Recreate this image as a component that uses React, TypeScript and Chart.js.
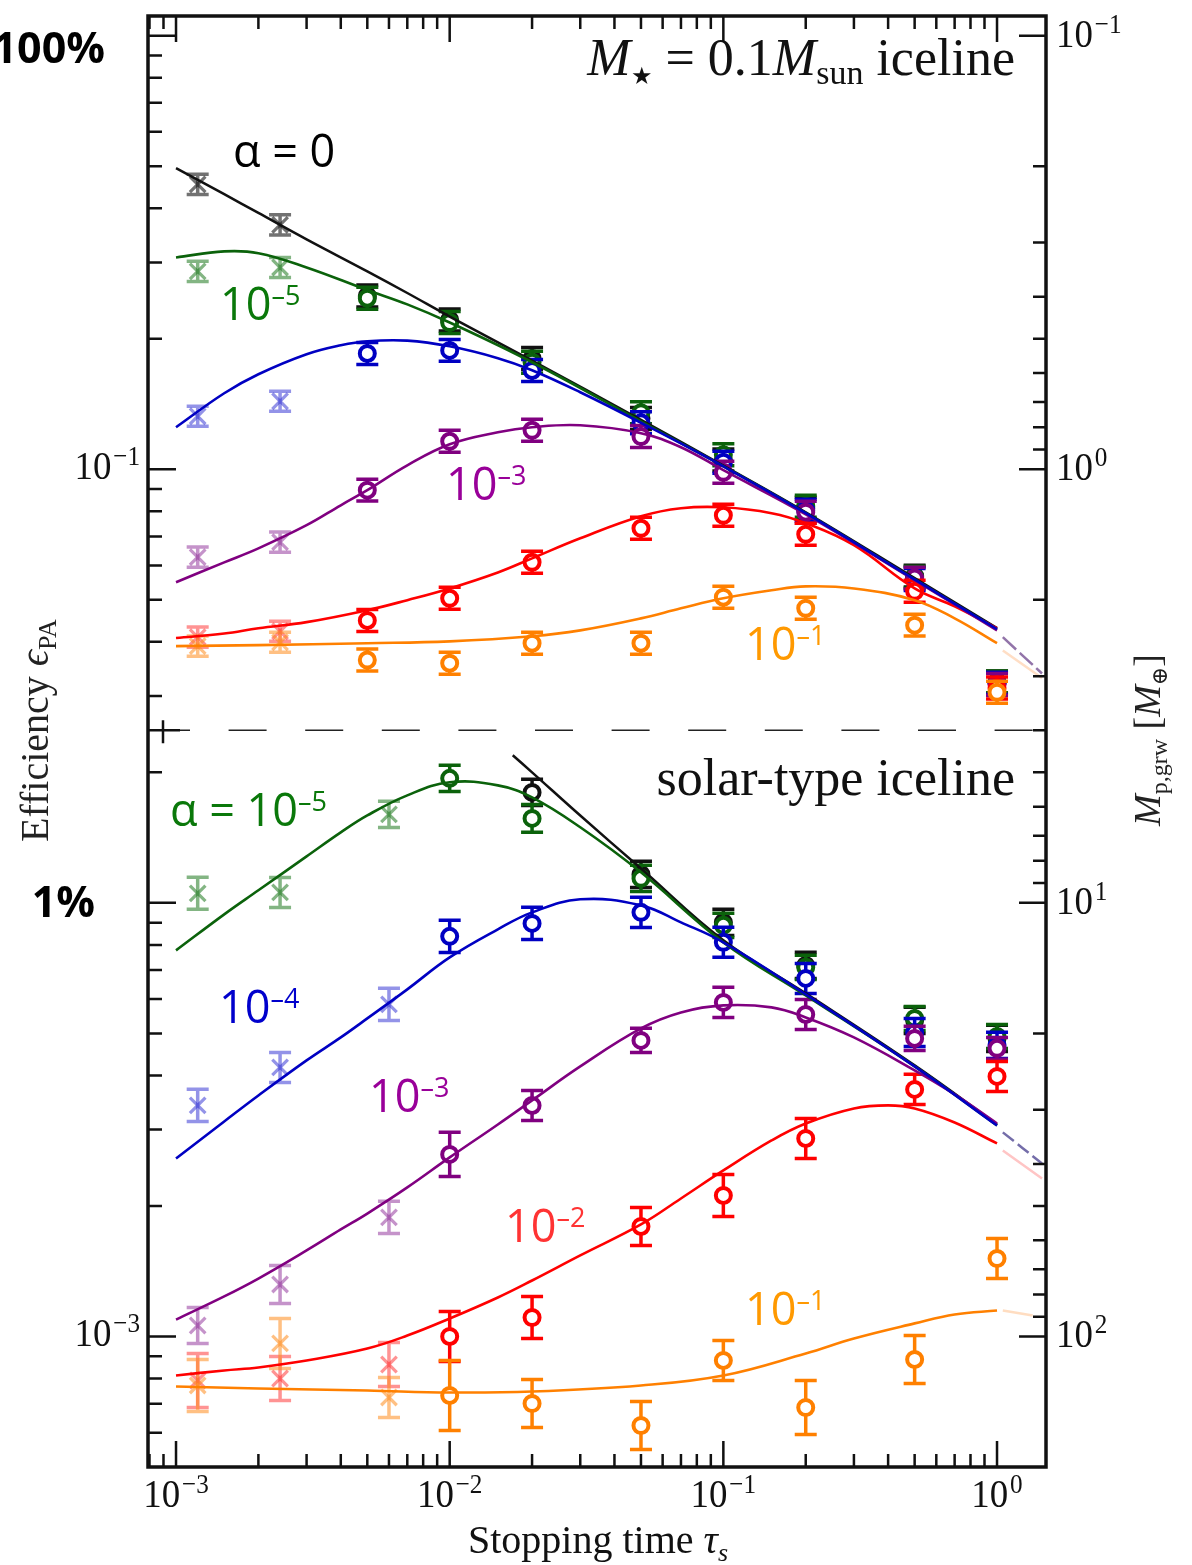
import React, { useEffect, useRef } from "react";
import { Chart, registerables } from "chart.js";

Chart.register(...registerables);

const SERIF = '"Liberation Serif", "Times New Roman", "DejaVu Serif", serif';
const SANS = '"Open Sans", "Noto Sans", "DejaVu Sans", sans-serif';

// ---------- axes ----------
const X_MIN = 7.9e-4;
const X_MAX = 1.51;
const Y_MIN = 5.0e-4;
const Y_MAX = 1.11;
const Y2_MIN = 0.0901; // right axis = M_p,grw (reversed)
const Y2_MAX = 200;
const xTickValues = [1e-3, 1e-2, 1e-1, 1];
const xTickExps = ["−3", "−2", "−1", "0"];
const yTickValues = [1e-1, 1e-3];
const yTickExps = ["−1", "−3"];
const y2TickValues = [0.1, 1, 10, 100];
const y2TickExps = ["−1", "0", "1", "2"];
const panelDivider = 0.025;

// ---------- TOP PANEL (M* = 0.1 Msun iceline) : model curves ----------
const tauBlackTopCurve = [1e-3, 1.5e-3, 2e-3, 3e-3, 5e-3, 7e-3, 1e-2, 2e-2, 5e-2, 0.1, 0.2, 0.5, 1];
const effBlackTopCurve = [0.495, 0.431, 0.39, 0.339, 0.286, 0.255, 0.225, 0.178, 0.13, 0.102, 0.0796, 0.0561, 0.043];
const tauGreenTopCurve = [1e-3, 1.5e-3, 2e-3, 3e-3, 5e-3, 7e-3, 1e-2, 2e-2, 5e-2, 0.1, 0.2, 0.5, 1];
const effGreenTopCurve = [0.308, 0.318, 0.315, 0.292, 0.259, 0.24, 0.218, 0.1765, 0.129, 0.1016, 0.0792, 0.0557, 0.0428];
const tauBlueTopCurve = [1e-3, 1.5e-3, 2e-3, 3e-3, 4e-3, 5e-3, 7e-3, 1e-2, 1.5e-2, 2e-2, 3e-2, 5e-2, 0.1, 0.2, 0.5, 1];
const effBlueTopCurve = [0.125, 0.1497, 0.1656, 0.1842, 0.1932, 0.1974, 0.198, 0.1921, 0.1804, 0.1692, 0.1505, 0.128, 0.1016, 0.0792, 0.0557, 0.0428];
const tauPurpleTopCurve = [1e-3, 1.5e-3, 2e-3, 3e-3, 4e-3, 5e-3, 7e-3, 1e-2, 1.5e-2, 2e-2, 3e-2, 5e-2, 7e-2, 0.1, 0.2, 0.5, 1];
const effPurpleTopCurve = [0.0549, 0.061, 0.0657, 0.0743, 0.0826, 0.0895, 0.1021, 0.1142, 0.1217, 0.125, 0.1263, 0.1211, 0.1124, 0.0995, 0.0787, 0.0555, 0.0425];
const tauRedTopCurve = [1e-3, 1.5e-3, 2e-3, 3e-3, 5e-3, 7e-3, 1e-2, 1.5e-2, 2e-2, 3e-2, 5e-2, 7e-2, 0.1, 0.15, 0.2, 0.3, 0.5, 0.7, 1];
const effRedTopCurve = [0.0408, 0.0418, 0.043, 0.0444, 0.0473, 0.0499, 0.0531, 0.0578, 0.0623, 0.0693, 0.0779, 0.0813, 0.0817, 0.0792, 0.0751, 0.0668, 0.0531, 0.0483, 0.043];
const tauOrangeTopCurve = [1e-3, 2e-3, 5e-3, 1e-2, 2e-2, 3e-2, 5e-2, 7e-2, 0.1, 0.15, 0.2, 0.3, 0.5, 0.7, 1];
const effOrangeTopCurve = [0.0391, 0.0393, 0.0397, 0.0401, 0.0412, 0.0425, 0.0453, 0.0478, 0.0504, 0.0526, 0.0537, 0.0531, 0.0499, 0.0453, 0.0397];
// faded extension beyond tau = 1
const tauTopFade = [1.05, 1.46];
const effTopFadeMerged = [0.041, 0.0338];
const effTopFadeOrange = [0.0382, 0.033];

// ---------- TOP PANEL : simulation markers ----------
const tauCrossTop = [1.2e-3, 2.4e-3];
const tauCircleTop = [5e-3, 1e-2, 2e-2, 5e-2, 0.1, 0.2, 0.5, 1];
const errCrossTop = [1.055, 1.055];
const errCircleTop = [1.06, 1.06, 1.06, 1.06, 1.06, 1.06, 1.06, 1.06];
const effBlackCrossTop = [0.454, 0.366];
const effBlackCircleTop = [0.251, 0.221, 0.18, 0.131, 0.105, 0.0813, 0.0567, 0.0323];
const effGreenCrossTop = [0.286, 0.292];
const effGreenCircleTop = [0.248, 0.218, 0.1765, 0.135, 0.108, 0.0822, 0.0564, 0.0323];
const effBlueCrossTop = [0.1325, 0.1435];
const effBlueCircleTop = [0.185, 0.188, 0.169, 0.128, 0.1038, 0.0804, 0.0557, 0.0321];
const effPurpleCrossTop = [0.0627, 0.0679];
const effPurpleCircleTop = [0.0895, 0.116, 0.123, 0.119, 0.0984, 0.0796, 0.0561, 0.0319];
const effRedCrossTop = [0.041, 0.0423];
const effRedCircleTop = [0.0448, 0.0504, 0.061, 0.0731, 0.0783, 0.0708, 0.0523, 0.0313];
const effOrangeCrossTop = [0.0391, 0.0399];
const effOrangeCircleTop = [0.0363, 0.0357, 0.0397, 0.0397, 0.0507, 0.0478, 0.0437, 0.0306];

// ---------- BOTTOM PANEL (solar-type iceline) : model curves ----------
const tauBlackBotCurve = [0.017, 0.02, 0.03, 0.05, 0.1, 0.2, 0.5, 1];
const effBlackBotCurve = [0.0219, 0.02, 0.0159, 0.012, 0.008195, 0.006183, 0.004219, 0.003083];
const tauGreenBotCurve = [1e-3, 1.5e-3, 2e-3, 3e-3, 4e-3, 5e-3, 7e-3, 1e-2, 1.5e-2, 2e-2, 3e-2, 5e-2, 0.1, 0.2, 0.5, 1];
const effGreenBotCurve = [0.00777, 0.009408, 0.01069, 0.0128, 0.01454, 0.01591, 0.0177, 0.01897, 0.01866, 0.01751, 0.01494, 0.01176, 0.008109, 0.006118, 0.004196, 0.003066];
const tauBlueBotCurve = [1e-3, 1.5e-3, 2e-3, 3e-3, 4e-3, 5e-3, 7e-3, 1e-2, 1.5e-2, 2e-2, 3e-2, 5e-2, 7e-2, 0.1, 0.2, 0.5, 1];
const effBlueBotCurve = [0.002574, 0.003133, 0.003596, 0.004332, 0.004895, 0.005414, 0.006318, 0.007486, 0.008689, 0.009508, 0.01019, 0.009867, 0.009016, 0.008109, 0.00615, 0.004196, 0.003066];
const tauPurpleBotCurve = [1e-3, 1.5e-3, 2e-3, 3e-3, 4e-3, 5e-3, 7e-3, 1e-2, 1.5e-2, 2e-2, 3e-2, 5e-2, 7e-2, 0.1, 0.15, 0.2, 0.3, 0.5, 0.7, 1];
const effPurpleBotCurve = [0.001094, 0.001237, 0.00136, 0.001579, 0.001765, 0.001921, 0.002207, 0.002588, 0.003083, 0.003503, 0.004196, 0.005134, 0.005589, 0.005802, 0.00574, 0.005443, 0.004895, 0.004108, 0.003616, 0.003099];
const tauRedBotCurve = [1e-3, 1.5e-3, 2e-3, 3e-3, 5e-3, 7e-3, 1e-2, 1.5e-2, 2e-2, 3e-2, 5e-2, 7e-2, 0.1, 0.15, 0.2, 0.3, 0.4, 0.5, 0.7, 1];
const effRedBotCurve = [0.0008128, 0.000835, 0.0008484, 0.0008804, 0.0009382, 0.001005, 0.0011, 0.00123, 0.001346, 0.001538, 0.001813, 0.002081, 0.002415, 0.002832, 0.003099, 0.003357, 0.003411, 0.003357, 0.003116, 0.002787];
const tauOrangeBotCurve = [1e-3, 2e-3, 5e-3, 1e-2, 2e-2, 5e-2, 0.1, 0.2, 0.3, 0.5, 0.7, 1];
const effOrangeBotCurve = [0.0007668, 0.0007586, 0.0007506, 0.0007427, 0.0007466, 0.0007709, 0.0008128, 0.0009137, 0.0009894, 0.001072, 0.001124, 0.001148];
const tauBotFade = [1.05, 1.46];
const effBotFadeMerged = [0.002956, 0.002506];
const effBotFadeRed = [0.002686, 0.002314];
const tauBotFadeOrange = [1.05, 1.35];
const effBotFadeOrange = [0.001148, 0.001118];

// ---------- BOTTOM PANEL : simulation markers ----------
const tauCrossBot = [1.2e-3, 2.4e-3, 6e-3];
const tauCircleBot = [1e-2, 2e-2, 5e-2, 0.1, 0.2, 0.5, 1];
const tauBlackCircleBot = [2e-2, 5e-2, 0.1, 0.2, 0.5, 1];
const effBlackCircleBot = [0.01798, 0.01163, 0.009016, 0.007175, 0.005358, 0.004869];
const errBlackCircleBot = [1.072, 1.072, 1.072, 1.072, 1.072, 1.072];
const effGreenCrossBot = [0.01052, 0.01057, 0.016];
const errGreenCrossBot = [1.089, 1.083, 1.072];
const effGreenCircleBot = [0.01937, 0.01566, 0.01139, 0.008874, 0.0071, 0.005414, 0.00492];
const errGreenCircleBot = [1.072, 1.077, 1.072, 1.066, 1.066, 1.066, 1.066];
const effBlueCrossBot = [0.003411, 0.004174, 0.005833];
const errBlueCrossBot = [1.089, 1.083, 1.089];
const effBlueCircleBot = [0.008371, 0.008968, 0.009508, 0.008109, 0.006696, 0.005026, 0.004692];
const errBlueCircleBot = [1.089, 1.089, 1.083, 1.083, 1.083, 1.077, 1.072];
const effPurpleCrossBot = [0.00106, 0.001318, 0.001882];
const errPurpleCrossBot = [1.1, 1.106, 1.089];
const effPurpleCircleBot = [0.00263, 0.003411, 0.004818, 0.005895, 0.00553, 0.004869, 0.004618];
const errPurpleCircleBot = [1.124, 1.083, 1.066, 1.083, 1.083, 1.066, 1.06];
const effRedCrossBot = [0.0007916, 0.0008, 0.0008618];
const errRedCrossBot = [1.154, 1.124, 1.124];
const effRedCircleBot = [0.001, 0.001106, 0.001794, 0.002115, 0.002862, 0.003714, 0.003979];
const errRedCircleBot = [1.142, 1.118, 1.106, 1.118, 1.112, 1.083, 1.083];
const effOrangeCrossBot = [0.0007709, 0.0009636, 0.0007233];
const errOrangeCrossBot = [1.148, 1.142, 1.112];
const effOrangeCircleBot = [0.000731, 0.0007005, 0.0006233, 0.0008804, 0.0006858, 0.0008851, 0.001513];
const errOrangeCircleBot = [1.204, 1.136, 1.136, 1.112, 1.154, 1.136, 1.112];

// ---------- colours ----------
const C = {
  black: "#111111",
  green: "#0b620b",
  blue: "#0000c2",
  purple: "#800080",
  red: "#ff0000",
  orange: "#ff8000",
};
const CL = {
  black: "rgba(20,20,20,0.6)",
  green: "rgba(30,120,30,0.55)",
  blue: "rgba(40,40,210,0.5)",
  purple: "rgba(140,40,150,0.5)",
  red: "rgba(255,40,40,0.5)",
  orange: "rgba(255,140,30,0.55)",
};
const LABEL = {
  green: "#0a780a",
  blue: "#0000cc",
  purple: "#990099",
  red: "#ff3333",
  orange: "#ff9900",
};

const pts = (xs: number[], ys: number[]) => xs.map((x, i) => ({ x, y: ys[i] }));

function curve(xs: number[], ys: number[], color: string, width = 2.6, dash: number[] = []) {
  return {
    data: pts(xs, ys),
    showLine: true,
    borderColor: color,
    backgroundColor: color,
    borderWidth: width,
    borderDash: dash,
    pointRadius: 0,
    tension: 0.4,
    fill: false,
  };
}

function markers(xs: number[], ys: number[], errs: number[], color: string, kind: "o" | "x") {
  return {
    data: pts(xs, ys),
    errF: errs,
    errColor: color,
    showLine: false,
    pointStyle: kind === "o" ? "circle" : "crossRot",
    pointRadius: kind === "o" ? 7.5 : 11,
    pointBorderWidth: kind === "o" ? 4 : 3.2,
    pointBorderColor: color,
    pointBackgroundColor: kind === "o" ? "#ffffff" : color,
    borderColor: color,
    backgroundColor: color,
  };
}

type Seg = { t: string; font: string; dy?: number; dx?: number };

function drawRich(ctx: CanvasRenderingContext2D, segs: Seg[], x: number, y: number, align: "left" | "right" | "center", color: string, sx = 1) {
  ctx.save();
  ctx.translate(x, y);
  ctx.scale(sx, 1);
  ctx.textAlign = "left";
  ctx.textBaseline = "alphabetic";
  ctx.fillStyle = color;
  let w = 0;
  for (const s of segs) {
    ctx.font = s.font;
    w += ctx.measureText(s.t).width + (s.dx || 0);
  }
  let cx = align === "left" ? 0 : align === "right" ? -w : -w / 2;
  for (const s of segs) {
    ctx.font = s.font;
    cx += s.dx || 0;
    ctx.fillText(s.t, cx, s.dy || 0);
    cx += ctx.measureText(s.t).width;
  }
  ctx.restore();
}

const pow = (exp: string): Seg[] => [
  { t: "10", font: `41px ${SERIF}` },
  { t: exp, font: `28px ${SERIF}`, dy: -14, dx: 2 },
];

const sansPow = (pre: string, exp: string): Seg[] => [
  { t: pre + "10", font: `45px ${SANS}` },
  { t: exp, font: `27px ${SANS}`, dy: -15 },
];

const errorBarPlugin = {
  id: "errbars",
  beforeDatasetDraw(chart: any, args: any) {
    const ds = chart.data.datasets[args.index];
    if (!ds.errF) return;
    const { ctx, chartArea: ca, scales } = chart;
    const xs = scales.x;
    const ys = scales.y;
    ctx.save();
    ctx.beginPath();
    ctx.rect(ca.left, ca.top, ca.right - ca.left, ca.bottom - ca.top);
    ctx.clip();
    ctx.strokeStyle = ds.errColor;
    ctx.lineWidth = 3.5;
    ds.data.forEach((p: any, i: number) => {
      const f = ds.errF[i];
      const px = xs.getPixelForValue(p.x);
      const y1 = ys.getPixelForValue(p.y * f);
      const y2 = ys.getPixelForValue(p.y / f);
      const cw = 11;
      ctx.beginPath();
      ctx.moveTo(px, y1);
      ctx.lineTo(px, y2);
      ctx.moveTo(px - cw, y1);
      ctx.lineTo(px + cw, y1);
      ctx.moveTo(px - cw, y2);
      ctx.lineTo(px + cw, y2);
      ctx.stroke();
    });
    ctx.restore();
  },
};

const decorPlugin = {
  id: "decor",
  afterDraw(chart: any) {
    const { ctx, chartArea: ca, scales } = chart;
    const xs = scales.x;
    const ys = scales.y;
    const y2s = scales.y2;
    ctx.save();

    // panel divider (dashed)
    const yd = ys.getPixelForValue(panelDivider);
    ctx.strokeStyle = "#222";
    ctx.lineWidth = 1.6;
    ctx.setLineDash([38, 38.6]);
    ctx.beginPath();
    ctx.moveTo(ca.left + 4, yd);
    ctx.lineTo(ca.right, yd);
    ctx.stroke();
    ctx.setLineDash([]);
    ctx.strokeStyle = "#111";
    ctx.lineWidth = 2.5;
    ctx.beginPath();
    ctx.moveTo(ca.left, yd);
    ctx.lineTo(ca.left + 32, yd);
    ctx.moveTo(ca.left + 15, yd - 10);
    ctx.lineTo(ca.left + 15, yd + 13);
    ctx.stroke();

    // inward ticks
    ctx.strokeStyle = "#111";
    ctx.lineWidth = 2.5;
    ctx.beginPath();
    for (let e = -4; e <= 0; e++) {
      for (let k = 1; k <= 9; k++) {
        const v = k * Math.pow(10, e);
        if (v <= X_MIN || v >= X_MAX) continue;
        const px = xs.getPixelForValue(v);
        const len = k === 1 ? 26 : 13;
        ctx.moveTo(px, ca.bottom);
        ctx.lineTo(px, ca.bottom - len);
        ctx.moveTo(px, ca.top);
        ctx.lineTo(px, ca.top + len);
      }
    }
    for (let e = -4; e <= 0; e++) {
      for (let k = 1; k <= 9; k++) {
        const v = k * Math.pow(10, e);
        if (v <= Y_MIN || v >= Y_MAX) continue;
        const py = ys.getPixelForValue(v);
        const len = k === 1 ? 28 : 14;
        ctx.moveTo(ca.left, py);
        ctx.lineTo(ca.left + len, py);
      }
    }
    for (let e = -2; e <= 2; e++) {
      for (let k = 1; k <= 9; k++) {
        const v = k * Math.pow(10, e);
        if (v <= Y2_MIN || v >= Y2_MAX) continue;
        const py = y2s.getPixelForValue(v);
        const len = k === 1 ? 27 : 13;
        ctx.moveTo(ca.right, py);
        ctx.lineTo(ca.right - len, py);
      }
    }
    ctx.stroke();

    // frame
    ctx.lineWidth = 3.5;
    ctx.strokeRect(ca.left, ca.top, ca.right - ca.left, ca.bottom - ca.top);

    // tick labels
    xTickValues.forEach((v, i) => {
      drawRich(ctx, pow(xTickExps[i]), xs.getPixelForValue(v), ca.bottom + 40, "center", "#111", 0.9);
    });
    yTickValues.forEach((v, i) => {
      drawRich(ctx, pow(yTickExps[i]), ca.left - 8, ys.getPixelForValue(v) + 10, "right", "#111", 0.9);
    });
    y2TickValues.forEach((v, i) => {
      drawRich(ctx, pow(y2TickExps[i]), ca.right + 10, y2s.getPixelForValue(v) + 11, "left", "#111", 0.9);
    });

    // axis titles
    drawRich(
      ctx,
      [
        { t: "Stopping time ", font: `40px ${SERIF}` },
        { t: "τ", font: `italic 40px ${SERIF}` },
        { t: "s", font: `italic 26px ${SERIF}`, dy: 8 },
      ],
      598,
      1553,
      "center",
      "#111"
    );
    ctx.save();
    ctx.translate(48, 842);
    ctx.rotate(-Math.PI / 2);
    drawRich(
      ctx,
      [
        { t: "Efficiency ", font: `40px ${SERIF}` },
        { t: "ϵ", font: `italic 40px ${SERIF}` },
        { t: "PA", font: `26px ${SERIF}`, dy: 8 },
      ],
      0,
      0,
      "left",
      "#222"
    );
    ctx.restore();
    ctx.save();
    ctx.translate(1160, 826);
    ctx.rotate(-Math.PI / 2);
    drawRich(
      ctx,
      [
        { t: "M", font: `italic 38px ${SERIF}` },
        { t: "p,grw", font: `24px ${SERIF}`, dy: 7 },
        { t: " [", font: `38px ${SERIF}` },
        { t: "M", font: `italic 38px ${SERIF}` },
        { t: "⊕", font: `22px ${SERIF}`, dy: 7 },
        { t: "]", font: `38px ${SERIF}` },
      ],
      0,
      0,
      "left",
      "#222"
    );
    ctx.restore();

    // panel titles
    drawRich(
      ctx,
      [
        { t: "M", font: `italic 52px ${SERIF}` },
        { t: "★", font: `24px ${SERIF}`, dy: 9 },
        { t: " = 0.1", font: `52px ${SERIF}` },
        { t: "M", font: `italic 52px ${SERIF}` },
        { t: "sun", font: `34px ${SERIF}`, dy: 9 },
        { t: " iceline", font: `52px ${SERIF}` },
      ],
      1015,
      75,
      "right",
      "#111"
    );
    drawRich(ctx, [{ t: "solar-type iceline", font: `52px ${SERIF}` }], 1015, 795, "right", "#111");

    // curve labels
    drawRich(ctx, [{ t: "α = 0", font: `45px ${SANS}` }], 233, 167, "left", "#000");
    drawRich(ctx, sansPow("", "–5"), 220, 320, "left", LABEL.green);
    drawRich(ctx, sansPow("", "–3"), 446, 500, "left", LABEL.purple);
    drawRich(ctx, sansPow("", "–1"), 745, 660, "left", LABEL.orange);
    drawRich(ctx, sansPow("α = ", "–5"), 170, 826, "left", LABEL.green);
    drawRich(ctx, sansPow("", "–4"), 219, 1023, "left", LABEL.blue);
    drawRich(ctx, sansPow("", "–3"), 369, 1112, "left", LABEL.purple);
    drawRich(ctx, sansPow("", "–2"), 505, 1242, "left", LABEL.red);
    drawRich(ctx, sansPow("", "–1"), 745, 1325, "left", LABEL.orange);

    // percentage marks
    drawRich(ctx, [{ t: "100%", font: `bold 43px ${SANS}` }], 105, 63, "right", "#000");
    drawRich(ctx, [{ t: "1%", font: `bold 43px ${SANS}` }], 95, 917, "right", "#000");

    ctx.restore();
  },
};

export default function App() {
  const ref = useRef<HTMLCanvasElement | null>(null);

  useEffect(() => {
    document.body.style.margin = "0";
    const canvas = ref.current;
    if (!canvas) return;

    const datasets: any[] = [
      // faded extensions
      curve(tauTopFade, effTopFadeMerged, "rgba(110,70,140,0.75)", 2.5, [18, 5]),
      curve(tauTopFade, effTopFadeOrange, "rgba(255,160,90,0.35)", 2.5),
      curve(tauBotFade, effBotFadeMerged, "rgba(70,60,140,0.75)", 2.5, [14, 5]),
      curve(tauBotFade, effBotFadeRed, "rgba(255,110,110,0.4)", 2.5),
      curve(tauBotFadeOrange, effBotFadeOrange, "rgba(255,170,100,0.4)", 2.5),
      // model curves (top)
      curve(tauBlueTopCurve, effBlueTopCurve, C.blue),
      curve(tauPurpleTopCurve, effPurpleTopCurve, C.purple),
      curve(tauRedTopCurve, effRedTopCurve, C.red),
      curve(tauOrangeTopCurve, effOrangeTopCurve, C.orange),
      curve(tauGreenTopCurve, effGreenTopCurve, C.green),
      curve(tauBlackTopCurve, effBlackTopCurve, C.black, 2.5),
      // model curves (bottom)
      curve(tauBlueBotCurve, effBlueBotCurve, C.blue),
      curve(tauPurpleBotCurve, effPurpleBotCurve, C.purple),
      curve(tauRedBotCurve, effRedBotCurve, C.red),
      curve(tauOrangeBotCurve, effOrangeBotCurve, C.orange),
      curve(tauGreenBotCurve, effGreenBotCurve, C.green),
      curve(tauBlackBotCurve, effBlackBotCurve, C.black, 2.5),
      // markers (first = on top)
      markers(tauCircleTop, effOrangeCircleTop, errCircleTop, C.orange, "o"),
      markers(tauCrossTop, effOrangeCrossTop, errCrossTop, CL.orange, "x"),
      markers(tauCircleTop, effRedCircleTop, errCircleTop, C.red, "o"),
      markers(tauCrossTop, effRedCrossTop, errCrossTop, CL.red, "x"),
      markers(tauCircleTop, effPurpleCircleTop, errCircleTop, C.purple, "o"),
      markers(tauCrossTop, effPurpleCrossTop, errCrossTop, CL.purple, "x"),
      markers(tauCircleTop, effBlueCircleTop, errCircleTop, C.blue, "o"),
      markers(tauCrossTop, effBlueCrossTop, errCrossTop, CL.blue, "x"),
      markers(tauCircleTop, effGreenCircleTop, errCircleTop, C.green, "o"),
      markers(tauCrossTop, effGreenCrossTop, errCrossTop, CL.green, "x"),
      markers(tauCircleTop, effBlackCircleTop, errCircleTop, C.black, "o"),
      markers(tauCrossTop, effBlackCrossTop, errCrossTop, CL.black, "x"),
      markers(tauCircleBot, effOrangeCircleBot, errOrangeCircleBot, C.orange, "o"),
      markers(tauCrossBot, effOrangeCrossBot, errOrangeCrossBot, CL.orange, "x"),
      markers(tauCircleBot, effRedCircleBot, errRedCircleBot, C.red, "o"),
      markers(tauCrossBot, effRedCrossBot, errRedCrossBot, CL.red, "x"),
      markers(tauCircleBot, effPurpleCircleBot, errPurpleCircleBot, C.purple, "o"),
      markers(tauCrossBot, effPurpleCrossBot, errPurpleCrossBot, CL.purple, "x"),
      markers(tauCircleBot, effBlueCircleBot, errBlueCircleBot, C.blue, "o"),
      markers(tauCrossBot, effBlueCrossBot, errBlueCrossBot, CL.blue, "x"),
      markers(tauCircleBot, effGreenCircleBot, errGreenCircleBot, C.green, "o"),
      markers(tauCrossBot, effGreenCrossBot, errGreenCrossBot, CL.green, "x"),
      markers(tauBlackCircleBot, effBlackCircleBot, errBlackCircleBot, C.black, "o"),
    ];

    const hidden = {
      ticks: { display: false },
      grid: { display: false },
      border: { display: false },
      title: { display: false },
    };

    const chart = new Chart(canvas, {
      type: "scatter",
      data: { datasets },
      plugins: [errorBarPlugin, decorPlugin],
      options: {
        responsive: false,
        animation: false,
        devicePixelRatio: 1,
        events: [],
        layout: { padding: { top: 16, left: 0, right: 0, bottom: 0 } },
        plugins: { legend: { display: false }, tooltip: { enabled: false } },
        scales: {
          x: {
            type: "logarithmic",
            position: "bottom",
            min: X_MIN,
            max: X_MAX,
            bounds: "data",
            ...hidden,
            afterFit: (s: any) => {
              s.height = 98;
            },
          },
          y: {
            type: "logarithmic",
            position: "left",
            min: Y_MIN,
            max: Y_MAX,
            bounds: "data",
            ...hidden,
            afterFit: (s: any) => {
              s.width = 148;
            },
          },
          y2: {
            type: "logarithmic",
            position: "right",
            reverse: true,
            min: Y2_MIN,
            max: Y2_MAX,
            bounds: "data",
            ...hidden,
            afterFit: (s: any) => {
              s.width = 146;
            },
          },
        },
      } as any,
    });

    return () => {
      chart.destroy();
    };
  }, []);

  return <canvas ref={ref} width={1192} height={1565} style={{ display: "block", width: 1192, height: 1565 }} />;
}
